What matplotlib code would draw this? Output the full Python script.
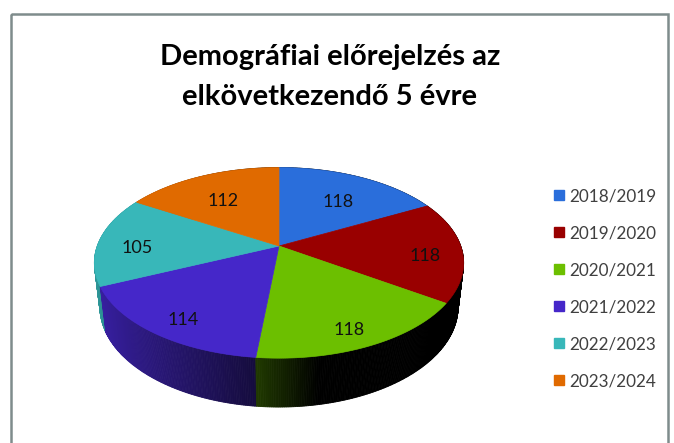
import numpy as np
import matplotlib
matplotlib.use("Agg")
import matplotlib.pyplot as plt
from matplotlib.patches import Polygon, Rectangle
from matplotlib.lines import Line2D

# ---- data ----
categories = ["2018/2019", "2019/2020", "2020/2021", "2021/2022", "2022/2023", "2023/2024"]
values = [118, 118, 118, 114, 105, 112]
colors = ["#2a6edb", "#990000", "#6cbf00", "#4527c9", "#38b7b9", "#e06a00"]
title_lines = ["Demográfiai előrejelzés az", "elkövetkezendő 5 évre"]

W, H = 674, 443
fig = plt.figure(figsize=(W / 100, H / 100), dpi=100)
ax = fig.add_axes([0, 0, 1, 1])
ax.set_xlim(0, W)
ax.set_ylim(H, 0)
ax.axis("off")

# ---- 3D perspective pie geometry ----
cx, cy = 279, 246
elev = np.arcsin(0.508)
ce, se = np.cos(elev), np.sin(elev)
L, f, thick = 4.87, 885.0, 0.288


def proj(u, w, hgt):
    ycam = -w * se + hgt * ce
    z = L - w * ce - hgt * se
    return cx + f * u / z, cy - f * ycam / z


def shade(u):
    return np.interp(u, [-1.0, -0.1, 0.18, 1.0], [0.85, 0.3, 0.0, 0.0])


total = float(sum(values))
bounds = np.concatenate([[0], np.cumsum(values)]) / total * 2 * np.pi  # clockwise from back

# sides (drawn as thin strips, back to front)
strips = []
for i, col in enumerate(colors):
    a0, a1 = bounds[i], bounds[i + 1]
    n = max(int(np.degrees(a1 - a0) * 2), 2)
    th = np.linspace(a0, a1, n + 1)
    rgb = np.array(matplotlib.colors.to_rgb(col))
    for j in range(n):
        t0, t1 = th[j], th[j + 1]
        tm = 0.5 * (t0 + t1)
        u0, w0 = np.sin(t0), -np.cos(t0)
        u1, w1 = np.sin(t1), -np.cos(t1)
        pts = [proj(u0, w0, 0), proj(u1, w1, 0), proj(u1, w1, -thick), proj(u0, w0, -thick)]
        c = rgb * shade(np.sin(tm))
        strips.append((-np.cos(tm), pts, c))
strips.sort(key=lambda s: s[0])
for _, pts, c in strips:
    ax.add_patch(Polygon(pts, closed=True, facecolor=c, edgecolor=c, lw=0.6))

# top faces
for i, col in enumerate(colors):
    th = np.linspace(bounds[i], bounds[i + 1], 120)
    pts = [proj(0, 0, 0)] + [proj(np.sin(t), -np.cos(t), 0) for t in th]
    ax.add_patch(Polygon(pts, closed=True, facecolor=col, edgecolor=col, lw=0.5))

# labels (slightly closer to centre for back slices, as in the reference)
for i, v in enumerate(values):
    tm = 0.5 * (bounds[i] + bounds[i + 1])
    r_lab = 0.8 - 0.12 * max(np.cos(tm), 0)
    x, y = proj(r_lab * np.sin(tm), -r_lab * np.cos(tm), -0.04)
    ax.text(x, y, str(v), ha="center", va="center", fontsize=13,
            family="Lato", color="#111111")

# title (two lines, baselines matched to reference)
for line, yb in zip(title_lines, [65, 105]):
    ax.text(330, yb, line, ha="center", va="baseline", fontsize=21,
            fontweight="bold", family="Lato", color="black")

# legend
handles = [Line2D([], [], marker="s", linestyle="none", markersize=6.5,
                  markerfacecolor=c, markeredgecolor=c) for c in colors]
leg = fig.legend(handles, categories, loc="upper left",
                 bbox_to_anchor=(554 / W, 1 - 188 / H), frameon=False,
                 prop={"family": "Lato", "size": 12.3}, labelspacing=1.23,
                 handlelength=0.6, handletextpad=0.3, borderpad=0,
                 borderaxespad=0)
for t in leg.get_texts():
    t.set_color("#404040")

# outer frame
ax.add_patch(Rectangle((11, 14), 657, 440, fill=False, edgecolor="#7f8c8c", lw=1.8))

fig.savefig("out.png", dpi=100)
